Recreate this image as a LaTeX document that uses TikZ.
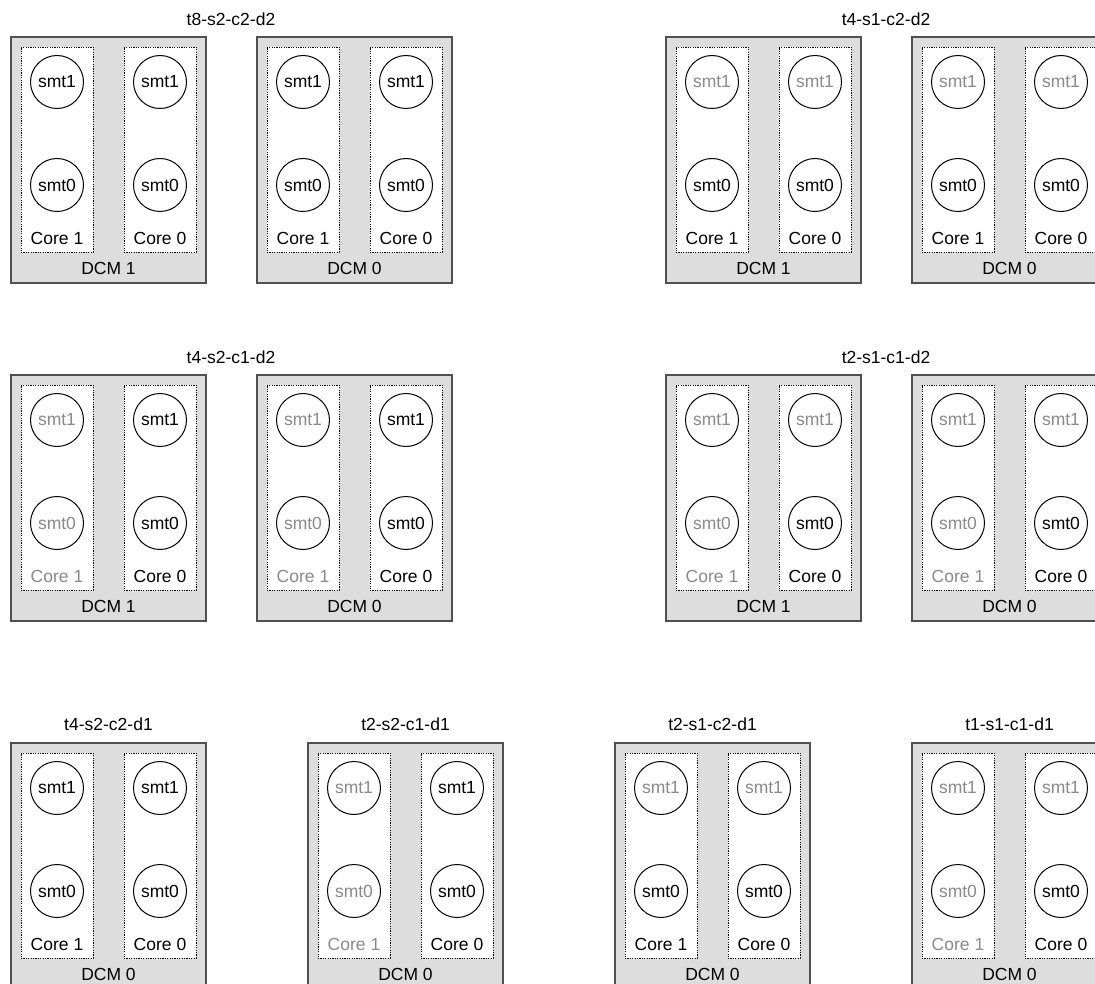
\documentclass[tikz,border=0pt]{standalone}
\usepackage{fontspec}
\setmainfont{Liberation Sans}
\usetikzlibrary{positioning}
\usepackage{xcolor}
\definecolor{dcmfill}{HTML}{DDDDDD}
\definecolor{dcmline}{HTML}{505050}
\definecolor{offtext}{HTML}{8A8A8A}
\tikzset{
  dcmbox/.style={rectangle,draw=dcmline,fill=dcmfill,line width=1.5pt,
    minimum width=195pt,minimum height=246pt,inner sep=0pt},
  corebox/.style={rectangle,draw=black,fill=white,line width=0.8pt,
    dash pattern=on 1.2pt off 1.2pt,minimum width=72pt,minimum height=205pt,
    inner sep=0pt},
  smtnode/.style={circle,draw=black,fill=white,line width=1pt,
    minimum size=53pt,inner sep=0pt},
  lbl/.style={inner sep=0pt},
  cfgtitle/.style={inner sep=0pt},
}
% one DCM: name, left x, top y, label, mode
% mode 0 all on, 1 smt1 off, 2 core 1 off, 3 core 1 and smt1 off
\newcommand{\dcmunit}[5]{%
  \ifcase#5
    \def\colA{black}\def\colB{black}\def\colC{black}%
  \or \def\colA{offtext}\def\colB{black}\def\colC{offtext}%
  \or \def\colA{offtext}\def\colB{offtext}\def\colC{black}%
  \or \def\colA{offtext}\def\colB{offtext}\def\colC{offtext}%
  \fi
  \node[dcmbox] (#1) at ({#2+97.5},{#3+123}) {};
  \node[corebox] (#1-c1) at ({#2+46},{#3+112.5}) {};
  \node[corebox] (#1-c0) at ({#2+149},{#3+112.5}) {};
  \node[smtnode,text=\colA] (#1-c1-t1) at ({#2+46},{#3+45}) {smt1};
  \node[smtnode,text=\colB] (#1-c1-t0) at ({#2+46},{#3+148}) {smt0};
  \node[smtnode,text=\colC] (#1-c0-t1) at ({#2+149},{#3+45}) {smt1};
  \node[smtnode] (#1-c0-t0) at ({#2+149},{#3+148}) {smt0};
  \node[lbl,text=\colB] (#1-c1-l) at ({#2+46},{#3+201}) {Core 1};
  \node[lbl] (#1-c0-l) at ({#2+149},{#3+201}) {Core 0};
  \node[lbl] (#1-l) at ({#2+97.5},{#3+231}) {#4};
}

\begin{document}
\begin{tikzpicture}[x=1pt,y=-1pt,font=\fontsize{17.5pt}{20pt}\selectfont]
  \useasboundingbox (0,0) rectangle (1095,984);

  % two DCMs
  \node[cfgtitle] (t8s2c2d2) at (231,19) {t8-s2-c2-d2};
  \dcmunit{a1}{11}{37}{DCM 1}{0}
  \dcmunit{a0}{257}{37}{DCM 0}{0}

  \node[cfgtitle] (t4s1c2d2) at (886,19) {t4-s1-c2-d2};
  \dcmunit{b1}{666}{37}{DCM 1}{1}
  \dcmunit{b0}{912}{37}{DCM 0}{1}

  \node[cfgtitle] (t4s2c1d2) at (231,357) {t4-s2-c1-d2};
  \dcmunit{c1}{11}{375}{DCM 1}{2}
  \dcmunit{c0}{257}{375}{DCM 0}{2}

  \node[cfgtitle] (t2s1c1d2) at (886,357) {t2-s1-c1-d2};
  \dcmunit{d1}{666}{375}{DCM 1}{3}
  \dcmunit{d0}{912}{375}{DCM 0}{3}

  % one DCM
  \node[cfgtitle] (t4s2c2d1) at (108.5,724) {t4-s2-c2-d1};
  \dcmunit{e0}{11}{743}{DCM 0}{0}

  \node[cfgtitle] (t2s2c1d1) at (405.5,724) {t2-s2-c1-d1};
  \dcmunit{f0}{308}{743}{DCM 0}{2}

  \node[cfgtitle] (t2s1c2d1) at (712.5,724) {t2-s1-c2-d1};
  \dcmunit{g0}{615}{743}{DCM 0}{1}

  \node[cfgtitle] (t1s1c1d1) at (1009.5,724) {t1-s1-c1-d1};
  \dcmunit{h0}{912}{743}{DCM 0}{3}
\end{tikzpicture}
\end{document}
